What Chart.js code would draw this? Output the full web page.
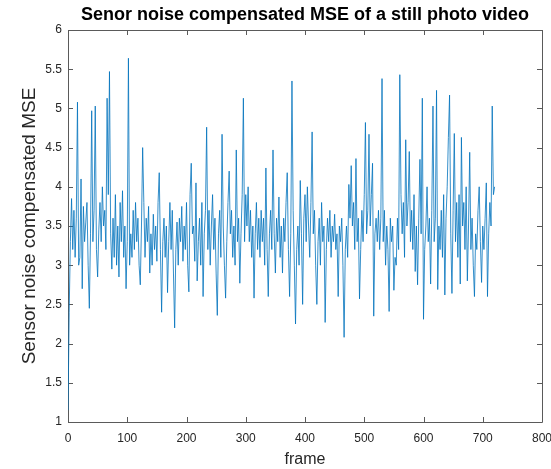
<!DOCTYPE html>
<html>
<head>
<meta charset="utf-8">
<script src="https://cdn.jsdelivr.net/npm/chart.js@4.4.1/dist/chart.umd.min.js"></script>
<style>
  html, body { margin: 0; padding: 0; background: #fff; }
  #mse-chart { display: block; }
</style>
</head>
<body>
<canvas id="mse-chart" width="551" height="469"></canvas>
<script>
// frame numbers (every 2nd frame) and MSE values
const frames = [];
for (let f = 0; f <= 720; f += 2) frames.push(f);

const mse = [
  1.15, 2.4, 3.3, 3.85, 3.2, 3.7, 3.1, 3.6, 5.08, 3.0,
  3.1, 4.1, 2.7, 3.75, 3.3, 3.55, 3.8, 3.0, 2.45, 3.4,
  4.97, 3.3, 3.7, 5.03, 3.2, 2.85, 3.45, 3.8, 3.3, 4.0,
  3.5, 3.7, 3.2, 5.13, 3.9, 5.47, 3.4, 2.95, 3.6, 3.1,
  3.9, 3.0, 3.5, 2.85, 3.8, 3.3, 3.95, 3.1, 3.5, 2.7,
  3.3, 5.64, 3.0, 3.4, 3.1, 3.7, 3.2, 3.8, 3.3, 3.6,
  3.0, 2.75, 3.5, 4.5, 3.8, 3.1, 3.6, 3.3, 3.75, 2.9,
  3.4, 3.0, 3.65, 3.2, 3.5, 3.05, 3.8, 4.18, 3.2, 2.4,
  3.3, 3.6, 3.1, 3.5, 2.65, 3.3, 3.8, 3.2, 3.7, 2.9,
  2.2, 3.2, 3.55, 3.0, 3.6, 3.3, 3.75, 3.05, 3.5, 3.2,
  3.8, 3.0, 2.66, 3.9, 4.3, 3.4, 3.5, 3.05, 4.05, 2.8,
  3.3, 3.6, 3.0, 3.8, 2.6, 3.4, 3.7, 4.76, 3.2, 3.7,
  3.0, 3.5, 3.9, 3.2, 3.6, 2.9, 2.36, 3.4, 3.7, 3.1,
  4.67, 3.5, 3.0, 2.58, 3.3, 3.8, 4.2, 3.4, 3.7, 3.1,
  3.5, 3.0, 4.47, 3.3, 3.6, 2.77, 3.4, 3.9, 5.13, 3.3,
  3.9, 3.5, 4.0, 3.3, 3.7, 3.1, 3.5, 2.58, 3.4, 3.8,
  3.2, 3.6, 3.1, 3.7, 3.3, 3.6, 3.0, 4.24, 3.2, 2.6,
  3.4, 3.7, 3.2, 4.47, 3.4, 2.9, 3.6, 3.3, 3.87, 3.1,
  3.5, 2.9, 3.6, 3.3, 3.8, 4.18, 3.2, 2.6, 3.4, 5.35,
  3.7, 3.0, 2.25, 3.2, 3.5, 3.0, 4.08, 3.4, 2.5, 3.6,
  3.9, 3.3, 4.0, 3.5, 3.1, 3.8, 4.7, 3.4, 3.7, 3.0,
  2.5, 3.3, 3.6, 3.0, 3.8, 3.3, 3.5, 2.27, 3.2, 3.6,
  3.3, 3.7, 3.1, 3.5, 3.3, 3.65, 3.2, 3.4, 2.6, 3.5,
  3.3, 3.6, 3.0, 2.08, 3.2, 3.5, 3.1, 4.03, 3.6, 4.27,
  3.5, 3.8, 3.2, 4.36, 3.3, 3.6, 2.57, 3.2, 3.7, 3.3,
  3.9, 4.82, 3.4, 3.7, 4.67, 3.5, 3.9, 4.3, 2.35, 3.4,
  3.6, 3.3, 3.7, 3.2, 3.6, 5.38, 3.3, 3.7, 3.0, 3.5,
  3.2, 2.41, 3.6, 3.3, 3.5, 2.68, 3.1, 3.0, 3.6, 3.2,
  5.43, 3.9, 3.4, 3.8, 3.1, 4.6, 3.5, 3.8, 4.45, 3.3,
  3.7, 3.2, 3.9, 2.92, 3.5, 2.75, 3.6, 4.35, 3.4, 5.13,
  2.31, 3.2, 3.5, 4.0, 3.3, 3.6, 2.76, 3.7, 5.03, 3.3,
  3.6, 5.23, 2.69, 3.5, 3.2, 3.7, 3.1, 3.9, 2.62, 3.6,
  4.0, 4.63, 5.17, 3.4, 2.64, 3.7, 4.68, 3.3, 3.8, 3.1,
  3.9, 2.76, 4.63, 3.5, 3.8, 3.2, 4.0, 2.8, 3.5, 4.44,
  3.2, 3.6, 3.0, 2.6, 3.4, 3.2, 3.7, 4.0, 3.3, 2.78,
  3.5, 3.2, 3.6, 4.05, 2.6, 3.4, 3.8, 3.5, 5.03, 3.9,
  4.0
];

const xTicks = [0, 100, 200, 300, 400, 500, 600, 700, 800];
const yTicks = [1, 1.5, 2, 2.5, 3, 3.5, 4, 4.5, 5, 5.5, 6];

const FONT = '"Liberation Sans", Arial, Helvetica, sans-serif';
const AXIS_GRAY = '#262626';

// matlab style box with ticks pointing inwards on all four sides
// drawn before the line so the trace stays visible on the left edge
const boxPlugin = {
  id: 'boxPlugin',
  beforeDatasetsDraw(chart) {
    const { ctx, chartArea: { left, right, top, bottom }, scales: { x, y } } = chart;
    const tl = 5;
    ctx.save();
    ctx.strokeStyle = '#5a5a5a';
    ctx.lineWidth = 1;
    ctx.beginPath();
    ctx.rect(Math.round(left) + 0.5, Math.round(top) + 0.5,
             Math.round(right - left), Math.round(bottom - top));
    xTicks.forEach(v => {
      const px = Math.round(x.getPixelForValue(v)) + 0.5;
      ctx.moveTo(px, bottom); ctx.lineTo(px, bottom - tl);
      ctx.moveTo(px, top); ctx.lineTo(px, top + tl);
    });
    yTicks.forEach(v => {
      const py = Math.round(y.getPixelForValue(v)) + 0.5;
      ctx.moveTo(left, py); ctx.lineTo(left + tl, py);
      ctx.moveTo(right, py); ctx.lineTo(right - tl, py);
    });
    ctx.stroke();
    ctx.restore();
  }
};

new Chart(document.getElementById('mse-chart').getContext('2d'), {
  type: 'line',
  data: {
    labels: frames,
    datasets: [{
      data: mse,
      borderColor: '#0072BD',
      borderWidth: 0.8,
      pointRadius: 0,
      tension: 0,
      fill: false
    }]
  },
  options: {
    responsive: false,
    animation: false,
    events: [],
    layout: { padding: { top: 0, right: 9, bottom: 0, left: 0 } },
    plugins: {
      legend: { display: false },
      tooltip: { enabled: false },
      title: {
        display: true,
        fullSize: false,
        text: 'Senor noise compensated MSE of a still photo video',
        color: '#000',
        font: { family: FONT, size: 18, weight: 'bold', lineHeight: 1.2 },
        padding: { top: 4.5, bottom: 3.9 }
      }
    },
    scales: {
      x: {
        type: 'linear',
        min: 0,
        max: 800,
        afterBuildTicks: (s) => { s.ticks = xTicks.map(v => ({ value: v })); },
        afterFit: (s) => { s.height = 47; s.paddingLeft = 0; s.paddingRight = 0; },
        grid: { display: false, drawTicks: false },
        border: { display: false },
        ticks: {
          color: AXIS_GRAY,
          padding: 9,
          maxRotation: 0,
          autoSkip: false,
          callback: (v) => String(v),
          font: { family: FONT, size: 12 }
        },
        title: {
          display: true,
          text: 'frame',
          color: AXIS_GRAY,
          padding: { top: 0, bottom: 0 },
          font: { family: FONT, size: 16, lineHeight: 1.2 }
        }
      },
      y: {
        type: 'linear',
        min: 1,
        max: 6,
        afterBuildTicks: (s) => { s.ticks = yTicks.map(v => ({ value: v })); },
        afterFit: (s) => { s.width = 68; s.paddingTop = 0; s.paddingBottom = 0; },
        grid: { display: false, drawTicks: false },
        border: { display: false },
        ticks: {
          color: AXIS_GRAY,
          padding: 6,
          autoSkip: false,
          callback: (v) => String(v),
          font: { family: FONT, size: 12 }
        },
        title: {
          display: true,
          text: 'Sensor noise compensated MSE',
          color: AXIS_GRAY,
          padding: { top: 18.6, bottom: 0 },
          font: { family: FONT, size: 19, lineHeight: 1.2 }
        }
      }
    }
  },
  plugins: [boxPlugin]
});
</script>
</body>
</html>
